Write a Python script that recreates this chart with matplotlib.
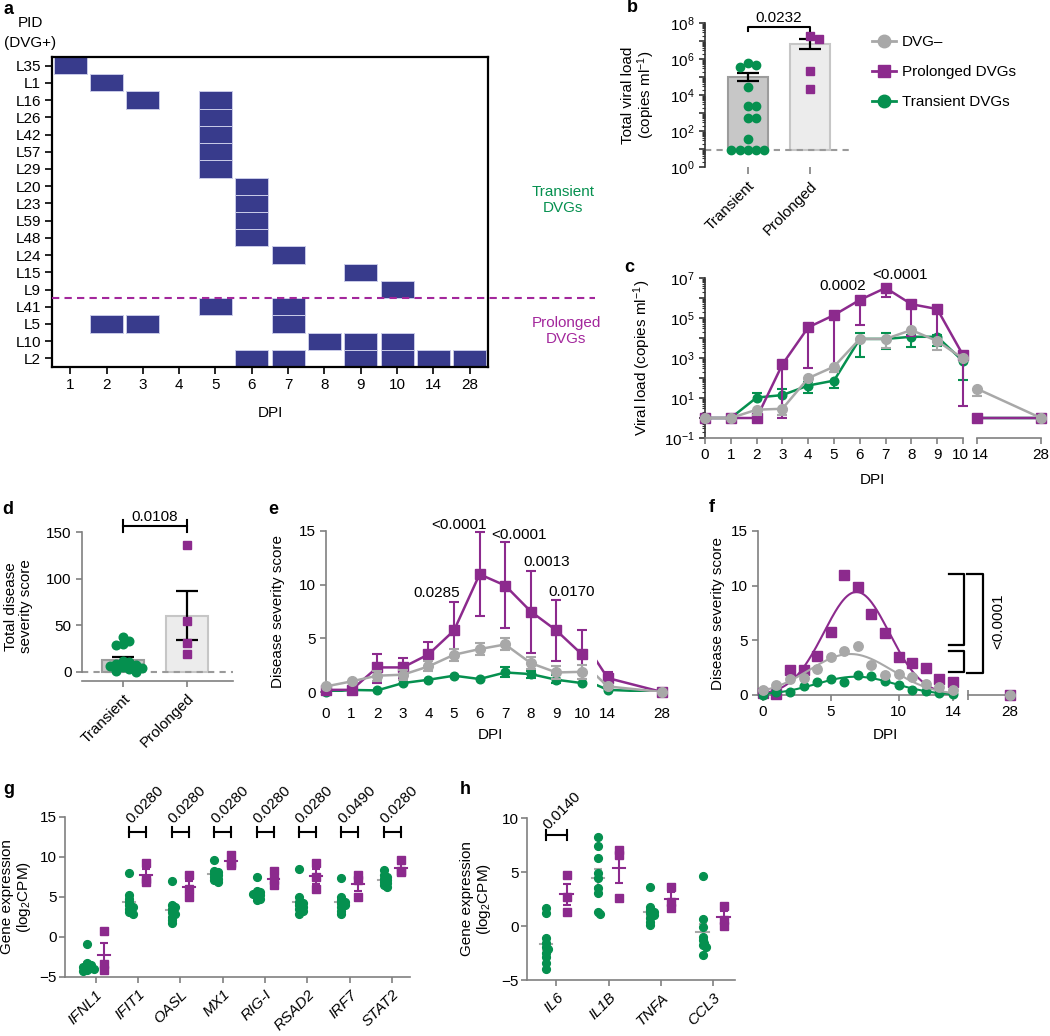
import numpy as np
import matplotlib
matplotlib.use("Agg")
import matplotlib.pyplot as plt
import matplotlib.transforms as mtrans
from matplotlib import ticker
from matplotlib.patches import Rectangle
from matplotlib.lines import Line2D

plt.rcParams["font.family"] = ["Liberation Sans", "DejaVu Sans"]
plt.rcParams["font.size"] = 11
plt.rcParams["mathtext.fontset"] = "custom"
plt.rcParams["mathtext.rm"] = "Liberation Sans"
plt.rcParams["mathtext.it"] = "Liberation Sans:italic"
plt.rcParams["mathtext.bf"] = "Liberation Sans:bold"

PURPLE = "#8c2a8d"
GREEN = "#05904f"
GRAY = "#a8a8a8"
NAVY = "#383b8c"
MAGENTA = "#a3279c"
AXIS = "#808080"

# ---------------- data ----------------
# a: DVG detection per patient
pids = ["L35", "L1", "L16", "L26", "L42", "L57", "L29", "L20", "L23", "L59", "L48",
        "L24", "L15", "L9", "L41", "L5", "L10", "L2"]
dpi_a = ["1", "2", "3", "4", "5", "6", "7", "8", "9", "10", "14", "28"]
dvg_days = [["1"], ["2"], ["3", "5"], ["5"], ["5"], ["5"], ["5"], ["6"], ["6"], ["6"], ["6"],
            ["7"], ["9"], ["10"], ["5", "7"], ["2", "3", "7"], ["8", "9", "10"],
            ["6", "7", "9", "10", "14", "28"]]
n_transient = 14

# b: total viral load
groups = ["Transient", "Prolonged"]
b_transient = [5.7e5, 4.7e5, 3.7e5, 2.8e4, 2.3e3, 2.3e3, 5.5e2, 5.5e2, 37, 9, 9, 9, 9, 9]
b_prolonged = [1.27e7, 1.95e7, 2.2e5, 2.1e4]
b_mean = [1.05e5, 6.9e6]
b_lo = [6.0e4, 3.5e6]
b_hi = [1.7e5, 1.25e7]
b_lod = 9.0

# c: viral load over time
c_days = np.array([0, 1, 2, 3, 4, 5, 6, 7, 8, 9, 10, 14, 28])
c_neg = [1, 1, 2.6, 2.9, 98, 370, 9e3, 9e3, 2.5e4, 7e3, 960, 29, 1]
c_neg_lo = [np.nan, np.nan, 1.45, 1.45, np.nan, 210, np.nan, 3e3, np.nan, 2.5e3, np.nan, 13, np.nan]
c_neg_hi = [np.nan] * 13
c_prol = [1, 1, 1, 480, 3.4e4, 1.4e5, 8e5, 3.2e6, 4.9e5, 2.8e5, 1.4e3, 1, 1]
c_prol_lo = [np.nan, np.nan, np.nan, 1.0, 300, 200, 4.4e4, 1.1e6, 1.3e4, 6e3, 4, np.nan, np.nan]
c_prol_hi = [np.nan] * 13
c_tran = [1, 1, 10.5, 14, 42, 74, 9e3, 9e3, 1.15e4, 1.15e4, 700, 1, 1]
c_tran_lo = [np.nan, np.nan, np.nan, 1.45, 17, 33, 1.07e3, 2.7e3, 3.6e3, 4e3, 80, np.nan, np.nan]
c_tran_hi = [np.nan, np.nan, 17, 27.5, 66, np.nan, 1.7e4, 1.7e4, 1.4e4, 1.4e4, np.nan, np.nan, np.nan]

# d: total disease severity
d_transient = [37, 33, 30, 29, 12, 10, 8, 7, 6, 5, 4, 3, 1, 0]
d_prolonged = [136, 54, 31, 19]
d_mean = [12.5, 60]
d_sem = [3.4, 26.5]

# e: disease severity over time
e_days = np.array([0, 1, 2, 3, 4, 5, 6, 7, 8, 9, 10, 14, 28])
e_prol = [0.2, 0.2, 2.29, 2.29, 3.5, 5.73, 10.97, 9.92, 7.5, 5.73, 3.5, 1.3, 0]
e_prol_lo = [np.nan, np.nan, 0.84, 1.3, 2.3, 3.3, 7.1, 5.95, 3.6, 2.85, 1.9, np.nan, np.nan]
e_prol_hi = [np.nan, np.nan, 3.5, 3.16, 4.7, 8.34, 14.87, 14.0, 11.3, 8.58, 5.73, 1.84, np.nan]
e_neg = [0.52, 0.99, 1.52, 1.61, 2.38, 3.47, 4.0, 4.43, 2.69, 1.82, 1.88, 0.52, 0.0]
e_neg_lo = [np.nan, np.nan, 0.98, 1.08, 1.92, 2.93, 3.47, 3.9, 2.14, 1.25, 1.25, np.nan, np.nan]
e_neg_hi = [np.nan, np.nan, 2.0, 2.06, 2.85, 4.0, 4.6, 5.0, 3.3, 2.44, 2.47, np.nan, np.nan]
e_tran = [0.0, 0.19, 0.15, 0.83, 1.14, 1.52, 1.21, 1.82, 1.67, 1.14, 0.83, 0.2, 0.0]
e_tran_lo = [np.nan] * 7 + [1.37, 1.28, 0.83] + [np.nan] * 3
e_tran_hi = [np.nan] * 7 + [2.3, 2.0, 1.6] + [np.nan] * 3

# f: daily means used for the fits
f_days = np.array([0, 1, 2, 3, 4, 5, 6, 7, 8, 9, 10, 11, 12, 13, 14, 28])
f_prol = [0.2, 0.1, 2.29, 2.29, 3.6, 5.8, 11.0, 9.9, 7.4, 5.7, 3.5, 2.9, 2.44, 1.5, 1.22, 0]
f_neg = [0.46, 0.9, 1.43, 1.6, 2.35, 3.5, 4.0, 4.48, 2.74, 1.83, 1.9, 1.68, 0.98, 0.7, 0.43, 0]
f_tran = [0.0, 0.24, 0.24, 0.85, 1.16, 1.46, 1.16, 1.83, 1.7, 1.28, 0.91, 0.46, 0.37, 0.2, 0.06, 0]

# g: interferon-stimulated genes
g_genes = ["IFNL1", "IFIT1", "OASL", "MX1", "RIG-I", "RSAD2", "IRF7", "STAT2"]
g_trans = [
    [-0.9, -3.3, -3.5, -3.7, -3.8, -3.9, -4.0, -4.1, -4.2],
    [8.0, 5.2, 4.8, 4.4, 4.0, 3.75, 3.5, 3.1, 2.9],
    [7.0, 4.0, 3.75, 3.5, 3.1, 2.9, 2.5, 2.1, 1.7],
    [9.6, 8.3, 8.1, 7.9, 7.7, 7.5, 7.3, 7.1, 6.9],
    [7.5, 5.8, 5.6, 5.4, 5.4, 5.2, 5.0, 4.8, 4.6],
    [8.5, 5.0, 4.4, 4.2, 4.0, 3.75, 3.5, 3.3, 2.9],
    [7.4, 5.0, 4.6, 4.4, 4.2, 4.0, 3.75, 3.3, 2.9],
    [8.4, 7.7, 7.5, 7.3, 7.1, 6.9, 6.7, 6.5, 6.25],
]
g_prol = [[0.7, -3.4, -4.1], [9.2, 7.3, 6.9], [7.7, 6.0, 5.0], [10.2, 9.2, 9.0],
          [8.3, 7.1, 6.5], [9.2, 7.5, 6.0], [7.7, 7.1, 5.0], [9.6, 8.3, 8.1]]
g_pvals = ["", "0.0280", "0.0280", "0.0280", "0.0280", "0.0280", "0.0490", "0.0280"]

# h: cytokines
h_genes = ["IL6", "IL1B", "TNFA", "CCL3"]
h_trans = [
    [1.64, 1.24, -1.15, -1.55, -1.92, -2.17, -2.54, -2.85, -3.47, -4.0],
    [8.24, 7.37, 6.28, 4.89, 4.43, 3.5, 3.03, 1.33, 1.11],
    [3.65, 1.8, 1.49, 1.33, 1.18, 1.02, 0.71, 0.4, 0.09],
    [4.66, 0.62, -0.06, -0.99, -1.3, -1.55, -1.76, -1.9, -2.68],
]
h_prol = [[4.74, 2.72, 1.33], [7.06, 6.6, 2.57], [3.65, 2.26, 1.64], [1.88, 0.56, 0.03]]
h_pvals = ["0.0140", "", "", ""]

# ---------------- helpers ----------------
W, H = 1050, 1036
fig = plt.figure(figsize=(W / 100, H / 100), dpi=100)


def axpx(l, t, r, b):
    ax = fig.add_axes([l / W, 1 - b / H, (r - l) / W, (b - t) / H])
    ax.patch.set_alpha(0)
    return ax


def ftext(x, y, s, **kw):
    fig.text(x / W, 1 - y / H, s, **kw)


def style(ax, color=AXIS, left=True, bottom=True):
    for s in ("top", "right"):
        ax.spines[s].set_visible(False)
    ax.spines["left"].set_visible(left)
    ax.spines["bottom"].set_visible(bottom)
    for s in ("left", "bottom"):
        ax.spines[s].set_color(color)
        ax.spines[s].set_linewidth(1.2)
    ax.tick_params(colors=color, labelcolor="black", width=1.2, length=4, labelsize=11)


def ylab(ax, text, right_px):
    ax.set_ylabel(text, fontsize=11, linespacing=1.05)
    p = ax.get_position()
    ax.yaxis.set_label_coords((right_px / W - p.x0) / p.width, 0.5)


def nudge(label, dx_px):
    label.set_transform(label.get_transform() + mtrans.ScaledTranslation(dx_px / 100, 0, fig.dpi_scale_trans))


def swarm_x(ax, x0, vals, diam, step=0.55):
    vals = np.asarray(vals, float)
    pts = ax.transData.transform(np.column_stack([np.full(len(vals), x0), vals]))
    xs = pts[:, 0].copy()
    placed = []
    for i in np.argsort(-vals):
        px, py = pts[i]
        k = 0
        while True:
            off = ((k + 1) // 2) * diam * step * (1 if k % 2 else -1)
            if all((px + off - qx) ** 2 + (py - qy) ** 2 >= (0.95 * diam) ** 2 for qx, qy in placed):
                break
            k += 1
        xs[i] = px + off
        placed.append((px + off, py))
    inv = ax.transData.inverted()
    return inv.transform(np.column_stack([xs, pts[:, 1]]))[:, 0]


def time_series(axes, days, vals, lo, hi, color, marker, ms, z):
    days = np.asarray(days, float)
    vals = np.asarray(vals, float)
    for ax in axes:
        x0, x1 = ax.get_xlim()
        ax.plot(days, vals, color=color, lw=1.8, zorder=z)
        m = (days >= x0 - 1e-6) & (days <= x1 + 1e-6)
        for ends in (np.asarray(lo, float), np.asarray(hi, float)):
            e = m & ~np.isnan(ends)
            if e.any():
                ax.vlines(days[e], vals[e], ends[e], color=color, lw=1.5, zorder=z - 0.2, clip_on=False)
                ax.plot(days[e], ends[e], ls="none", marker="_", ms=7.5, mew=1.5, color=color,
                        zorder=z - 0.2, clip_on=False)
        ax.plot(days[m], vals[m], ls="none", marker=marker, ms=ms, color=color, mec=color,
                zorder=z + 0.5, clip_on=False)


def gauss_fit(x, y):
    best = None
    for mu in np.linspace(3, 10, 141):
        for s in np.linspace(1, 7, 121):
            g = np.exp(-(x - mu) ** 2 / (2 * s * s))
            a = (g @ y) / (g @ g)
            r = ((y - a * g) ** 2).sum()
            if best is None or r < best[0]:
                best = (r, a, mu, s)
    return best[1:]


def panel_letter(x, y, s):
    ftext(x, y, s, fontsize=13, fontweight="bold", ha="left", va="center")


# ---------------- a ----------------
axa = axpx(52, 57, 488, 367)
axa.patch.set_alpha(1)
axa.set_xlim(0, len(dpi_a))
axa.set_ylim(len(pids), 0)
for r, days in enumerate(dvg_days):
    for d in days:
        c = dpi_a.index(d)
        axa.add_patch(Rectangle((c + 0.05, r), 0.9, 1, facecolor=NAVY, edgecolor="#c9cbe8", lw=0.7))
axa.set_xticks(np.arange(len(dpi_a)) + 0.5)
axa.set_xticklabels(dpi_a)
axa.set_yticks(np.arange(len(pids)) + 0.5)
axa.set_yticklabels(pids)
for s in axa.spines.values():
    s.set_linewidth(1.6)
axa.tick_params(length=5, width=1.2, labelsize=11, pad=3)
axa.plot([0, len(dpi_a) + 2.95], [n_transient, n_transient], ls="--", dashes=(3.5, 2.5),
         color=MAGENTA, lw=1.5, clip_on=False, zorder=5)
panel_letter(3, 9, "a")
ftext(30, 23, "PID", ha="center", va="center", fontsize=11)
ftext(30, 43, "(DVG+)", ha="center", va="center", fontsize=11)
ftext(270, 413, "DPI", ha="center", va="center", fontsize=11)
ftext(563, 200, "Transient\nDVGs", ha="center", va="center", color=GREEN, fontsize=11, linespacing=1.1)
ftext(566, 331, "Prolonged\nDVGs", ha="center", va="center", color=MAGENTA, fontsize=11, linespacing=1.1)

# ---------------- b ----------------
axb = axpx(705, 23, 850, 167)
axb.set_yscale("log")
axb.set_ylim(1, 1e8)
axb.set_xlim(-0.69, 1.65)
style(axb, color="#333333", bottom=False)
axb.bar([0, 1], np.array(b_mean) - b_lod, bottom=b_lod, width=0.645,
        color=["#c7c7c7", "#ececec"], edgecolor=["#9c9c9c", "#c6c6c6"], lw=1.5, zorder=1)
axb.axhline(b_lod, color="#9a9a9a", ls="--", dashes=(3, 2.5), lw=1.5, zorder=2)
axb.errorbar([0, 1], b_mean, yerr=[np.array(b_mean) - b_lo, np.array(b_hi) - b_mean],
             fmt="none", ecolor="black", elinewidth=1.6, capsize=8, capthick=1.6, zorder=3)
xs = swarm_x(axb, 0, b_transient, 7.5)
axb.plot(xs, b_transient, "o", ms=6, color=GREEN, zorder=4, clip_on=False)
xs = swarm_x(axb, 1, b_prolonged, 8)
axb.plot(xs, b_prolonged, "s", ms=6.2, color=PURPLE, zorder=4, clip_on=False)
axb.yaxis.set_major_locator(ticker.LogLocator(base=10, numticks=20))
axb.yaxis.set_major_formatter(ticker.FuncFormatter(
    lambda v, p: f"$10^{{{int(round(np.log10(v)))}}}$" if int(round(np.log10(v))) % 2 == 0 else ""))
axb.yaxis.set_minor_locator(ticker.LogLocator(base=10, subs=np.arange(2, 10), numticks=20))
axb.yaxis.set_minor_formatter(ticker.NullFormatter())
axb.tick_params(axis="y", which="minor", length=2, width=0.8, colors="#333333")
axb.tick_params(axis="x", colors=AXIS, labelcolor="black", length=5)
axb.set_xticks([0, 1])
axb.set_xticklabels(groups, rotation=45, ha="right", rotation_mode="anchor")
ylab(axb, "Total viral load\n(copies ml$^{-1}$)", 657)
axb.plot([0, 0, 1, 1], [10 ** 7.53, 10 ** 7.77, 10 ** 7.77, 10 ** 7.53], color="black", lw=1.5, clip_on=False)
axb.text(0.5, 10 ** 7.9, "0.0232", ha="center", va="bottom", fontsize=11)
panel_letter(627, 8, "b")
handles = [Line2D([], [], color=GRAY, marker="o", ms=9, lw=2),
           Line2D([], [], color=PURPLE, marker="s", ms=9, lw=2),
           Line2D([], [], color=GREEN, marker="o", ms=9, lw=2)]
fig.legend(handles, ["DVG\u2013", "Prolonged DVGs", "Transient DVGs"], loc="upper left",
           bbox_to_anchor=(872 / W, 1 - 35 / H), frameon=False, fontsize=11, borderpad=0,
           borderaxespad=0, handlelength=1.6, handletextpad=0.35, labelspacing=1.05)

# ---------------- c ----------------
axc1 = axpx(705, 278, 963, 438)
axc2 = axpx(977, 278, 1041, 438)
for ax, lim in ((axc1, (0, 10)), (axc2, (14, 28))):
    ax.set_yscale("log")
    ax.set_ylim(0.1, 1e7)
    ax.set_xlim(*lim)
    style(ax, left=(ax is axc1))
axc1.spines["left"].set_color("#333333")
axc1.yaxis.set_major_locator(ticker.LogLocator(base=10, numticks=20))
axc1.yaxis.set_major_formatter(ticker.FuncFormatter(
    lambda v, p: f"$10^{{{int(round(np.log10(v)))}}}$" if int(round(np.log10(v))) % 2 != 0 else ""))
axc1.yaxis.set_minor_locator(ticker.LogLocator(base=10, subs=np.arange(2, 10), numticks=20))
axc1.yaxis.set_minor_formatter(ticker.NullFormatter())
axc1.tick_params(axis="y", which="both", colors="#333333", labelcolor="black")
axc1.tick_params(axis="y", which="minor", length=2, width=0.8)
axc2.tick_params(axis="y", which="both", left=False, labelleft=False)
axc1.set_xticks(range(0, 11))
axc2.set_xticks([14, 28])
nudge(axc1.get_xticklabels()[-1], -2.5)
nudge(axc2.get_xticklabels()[0], 3)
time_series([axc1, axc2], c_days, c_tran, c_tran_lo, c_tran_hi, GREEN, "o", 6.2, 3)
time_series([axc1, axc2], c_days, c_prol, c_prol_lo, c_prol_hi, PURPLE, "s", 7, 4)
time_series([axc1, axc2], c_days, c_neg, c_neg_lo, c_neg_hi, GRAY, "o", 7, 5)
ylab(axc1, "Viral load (copies ml$^{-1}$)", 653)
axc1.text(5.35, 10 ** 6.6, "0.0002", ha="center", va="center", fontsize=11)
axc1.text(7.55, 10 ** 7.15, "<0.0001", ha="center", va="center", fontsize=11, clip_on=False)
ftext(872, 480, "DPI", ha="center", va="center", fontsize=11)
panel_letter(624, 267, "c")

# ---------------- d ----------------
axd = axpx(82, 532, 233, 681)
axd.set_ylim(-10, 150)
axd.set_xlim(-0.64, 1.72)
style(axd)
axd.spines["left"].set_bounds(0, 150)
axd.bar([0, 1], d_mean, width=0.65, color=["#c7c7c7", "#ececec"],
        edgecolor=["#9c9c9c", "#c6c6c6"], lw=1.5, zorder=1)
axd.axhline(0, color="#9a9a9a", ls="--", dashes=(3, 2.5), lw=1.5, zorder=2)
axd.errorbar([0, 1], d_mean, yerr=d_sem, fmt="none", ecolor="black", elinewidth=1.6,
             capsize=8, capthick=1.6, zorder=3)
xs = swarm_x(axd, 0, d_transient, 6.5, step=0.5)
axd.plot(xs, d_transient, "o", ms=6.2, color=GREEN, zorder=4)
axd.plot(np.full(len(d_prolonged), 1.0), d_prolonged, "s", ms=6.2, color=PURPLE, zorder=4)
axd.set_yticks([0, 50, 100, 150])
axd.set_xticks([0, 1])
axd.set_xticklabels(groups, rotation=45, ha="right", rotation_mode="anchor")
ylab(axd, "Total disease\nseverity score", 33)
axd.plot([0, 0], [150.5, 162.5], color="black", lw=1.5, clip_on=False)
axd.plot([1, 1], [150.5, 162.5], color="black", lw=1.5, clip_on=False)
axd.plot([0, 1], [156.5, 156.5], color="black", lw=1.5, clip_on=False)
axd.text(0.5, 159, "0.0108", ha="center", va="bottom", fontsize=11)
panel_letter(2, 510, "d")

# ---------------- e ----------------
axe1 = axpx(326, 531, 582, 692)
axe2 = axpx(597, 531, 662, 692)
for ax, lim in ((axe1, (0, 10)), (axe2, (11.23, 28))):
    ax.set_xlim(*lim)
    ax.set_ylim(0, 15)
    style(ax, left=(ax is axe1), bottom=False)
    ax.tick_params(axis="x", length=0, pad=11)
axe2.tick_params(axis="y", left=False, labelleft=False)
axe1.set_yticks([0, 5, 10, 15])
axe1.set_xticks(range(0, 11))
axe2.set_xticks([14, 28])
time_series([axe1, axe2], e_days, e_tran, e_tran_lo, e_tran_hi, GREEN, "o", 6.2, 3)
time_series([axe1, axe2], e_days, e_prol, e_prol_lo, e_prol_hi, PURPLE, "s", 7, 4)
time_series([axe1, axe2], e_days, e_neg, e_neg_lo, e_neg_hi, GRAY, "o", 7, 5)
for x, y, s in ((4.31, 9.27, "0.0285"), (5.18, 15.55, "<0.0001"), (7.53, 14.6, "<0.0001"),
                (8.61, 12.15, "0.0013"), (9.59, 9.36, "0.0170")):
    axe1.text(x, y, s, ha="center", va="center", fontsize=11, clip_on=False, zorder=8)
ylab(axe1, "Disease severity score", 285)
ftext(490, 735, "DPI", ha="center", va="center", fontsize=11)
panel_letter(268, 510, "e")

# ---------------- f ----------------
axf1 = axpx(758, 531, 957, 695)
axf2 = axpx(968, 531, 1013, 695)
axf1.set_xlim(-0.35, 14.3)
axf2.set_xlim(15.2, 28.9)
for ax in (axf1, axf2):
    ax.set_ylim(0, 15)
    style(ax, left=(ax is axf1))
axf2.tick_params(axis="y", left=False, labelleft=False)
axf1.set_yticks([0, 5, 10, 15])
axf1.set_xticks([0, 5, 10, 14])
axf2.set_xticks([28])
axf2.set_xticks([15.2], minor=True)
axf2.tick_params(axis="x", which="minor", length=7, width=1.2, colors=AXIS, direction="inout")
fit_x = np.linspace(0, 14, 200)
fmask = f_days <= 14
for vals, color, marker, ms, z in ((f_prol, PURPLE, "s", 7, 3), (f_tran, GREEN, "o", 6.2, 4),
                                   (f_neg, GRAY, "o", 6.8, 5)):
    vals = np.asarray(vals, float)
    a, mu, s = gauss_fit(f_days[fmask], vals[fmask])
    axf1.plot(fit_x, a * np.exp(-(fit_x - mu) ** 2 / (2 * s * s)), color=color, lw=1.5, zorder=z - 0.5)
    axf1.plot(f_days[fmask], vals[fmask], ls="none", marker=marker, ms=ms, color=color, zorder=z, clip_on=False)
    axf2.plot(f_days[~fmask], vals[~fmask], ls="none", marker=marker, ms=ms, color=color, zorder=z, clip_on=False)
for (x0, x1, y0, y1) in ((13.7, 14.8, 4.6, 11.1), (13.7, 14.8, 2.1, 4.0), (15.05, 16.2, 2.0, 11.1)):
    axf1.plot([x0, x1, x1, x0], [y1, y1, y0, y0], color="black", lw=1.6, clip_on=False)
axf1.text(17.3, 6.7, "<0.0001", rotation=90, ha="center", va="center", fontsize=11, clip_on=False)
ylab(axf1, "Disease severity score", 725)
ftext(885, 735, "DPI", ha="center", va="center", fontsize=11)
panel_letter(709, 508, "f")


# ---------------- g, h ----------------
def gene_panel(ax, genes, trans, prol, pvals, bracket_y, text_y, half):
    for i in range(len(genes)):
        for xc, v, col, z in ((i - 0.2, trans[i], GRAY, 2), (i + 0.2, prol[i], PURPLE, 5)):
            v = np.asarray(v, float)
            m = v.mean()
            se = v.std(ddof=1) / np.sqrt(len(v))
            ax.plot([xc - half, xc + half], [m, m], color=col, lw=1.5, zorder=z)
            ax.errorbar(xc, m, yerr=se, fmt="none", ecolor=col, elinewidth=1.5, capsize=3,
                        capthick=1.5, zorder=z)
        xs = swarm_x(ax, i - 0.2, trans[i], 3.0, step=0.6)
        ax.plot(xs, trans[i], "o", ms=5.6, color=GREEN, zorder=3, clip_on=False)
        ax.plot(np.full(len(prol[i]), i + 0.2), prol[i], "s", ms=5.6, color=PURPLE, zorder=4, clip_on=False)
        if pvals[i]:
            dy = 0.045 * (ax.get_ylim()[1] - ax.get_ylim()[0])
            ax.plot([i - 0.2, i + 0.2], [bracket_y, bracket_y], color="black", lw=1.5, clip_on=False)
            for xe in (i - 0.2, i + 0.2):
                ax.plot([xe, xe], [bracket_y - dy / 1.5, bracket_y + dy / 1.5], color="black", lw=1.5,
                        clip_on=False)
            ax.text(i - 0.16, text_y, pvals[i], rotation=45, ha="left", va="baseline",
                    rotation_mode="anchor", fontsize=11, clip_on=False)
    ax.set_xticks(range(len(genes)))
    ax.set_xticklabels(genes, rotation=45, ha="right", rotation_mode="anchor", fontstyle="italic")


axg = axpx(65, 817, 410, 977)
axg.set_ylim(-5, 15)
axg.set_xlim(-0.72, 7.42)
style(axg)
axg.tick_params(axis="y", pad=2)
axg.set_yticks([-5, 0, 5, 10, 15])
axg.set_yticklabels(["\u22125", "0", "5", "10", "15"])
gene_panel(axg, g_genes, g_trans, g_prol, g_pvals, 13.1, 14.1, 0.14)
ylab(axg, "Gene expression\n(log$_2$CPM)", 33)
panel_letter(3, 790, "g")

axh = axpx(527, 818, 735, 980)
axh.set_ylim(-5, 10)
axh.set_xlim(-0.56, 3.42)
style(axh)
axh.tick_params(axis="y", pad=2)
axh.set_yticks([-5, 0, 5, 10])
axh.set_yticklabels(["\u22125", "0", "5", "10"])
gene_panel(axh, h_genes, h_trans, h_prol, h_pvals, 8.45, 8.9, 0.12)
ylab(axh, "Gene expression\n(log$_2$CPM)", 493)
panel_letter(460, 790, "h")

fig.savefig("out.png", dpi=100)
